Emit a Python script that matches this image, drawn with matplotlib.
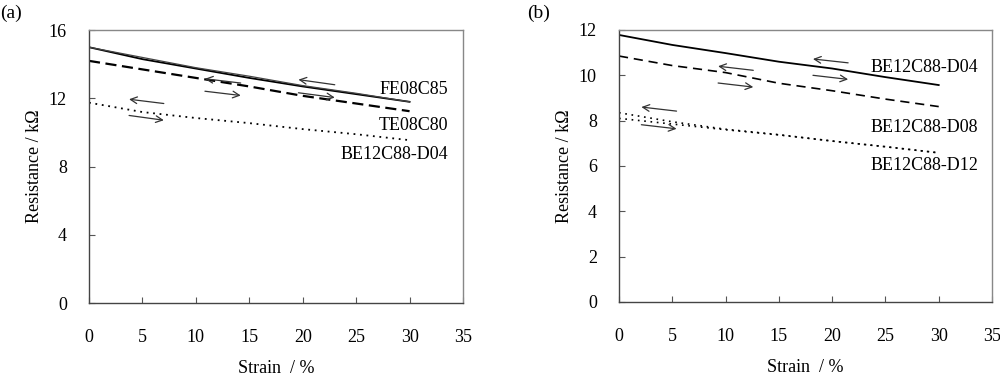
import matplotlib
matplotlib.use("Agg")
import matplotlib.pyplot as plt
import numpy as np

plt.rcParams['font.family'] = ['Liberation Serif', 'DejaVu Serif']

# ---- data ----
strain = [0, 5, 10, 15, 20, 25, 30]

# panel (a)
a_fe08c85_load = [15.0, 14.3, 13.75, 13.2, 12.7, 12.25, 11.8]
a_fe08c85_unload = [15.0, 14.4, 13.8, 13.3, 12.75, 12.3, 11.8]
a_te08c80 = [14.2, 13.7, 13.2, 12.7, 12.15, 11.7, 11.25]
a_be12c88_d04 = [11.75, 11.2, 10.85, 10.55, 10.2, 9.9, 9.55]
a_labels = ["FE08C85", "TE08C80", "BE12C88-D04"]
a_label_y = [12.54, 10.43, 8.73]
a_arrows_x = [(19.6, 23.0), (10.85, 14.2), (3.75, 7.0)]
a_arrows_left_y = [(13.1, 12.8), (13.15, 12.9), (11.95, 11.7)]
a_arrows_right_y = [(12.33, 12.05), (12.42, 12.17), (11.0, 10.72)]

# panel (b)
b_d04 = [11.78, 11.34, 10.98, 10.6, 10.3, 9.92, 9.57]
b_d08 = [10.85, 10.43, 10.12, 9.65, 9.32, 8.95, 8.62]
b_d12_load = [8.1, 7.85, 7.6, 7.37, 7.1, 6.85, 6.58]
b_d12_unload = [8.35, 7.95, 7.62, 7.38, 7.1, 6.85, 6.58]
b_labels = ["BE12C88-D04", "BE12C88-D08", "BE12C88-D12"]
b_label_y = [10.34, 7.69, 6.01]
b_arrows_x = [(18.2, 21.5), (9.3, 12.6), (2.1, 5.4)]
b_arrows_left_y = [(10.72, 10.55), (10.4, 10.22), (8.6, 8.42)]
b_arrows_right_y = [(10.0, 9.82), (9.66, 9.48), (7.82, 7.64)]

xticks = [0, 5, 10, 15, 20, 25, 30, 35]
a_yticks = [0, 4, 8, 12, 16]
b_yticks = [0, 2, 4, 6, 8, 10, 12]

fig = plt.figure(figsize=(10, 3.77), dpi=100)
axa = fig.add_axes([0.089, 0.196, 0.374, 0.724])
axb = fig.add_axes([0.619, 0.199, 0.373, 0.7215])

FS = 13


def style(ax, yticks, ymax):
    ax.set_xlim(0, 35)
    ax.set_ylim(0, ymax)
    ax.set_xticks(xticks)
    ax.set_yticks(yticks)
    ax.tick_params(direction='in', length=4, width=0.8, color='#555555',
                   labelsize=FS, top=False, right=False)
    ax.tick_params(axis='x', pad=19)
    ax.tick_params(axis='y', pad=16)
    for s in ax.spines.values():
        s.set_color('#888888')
        s.set_linewidth(1.0)
    ax.spines['left'].set_color('#444444')
    ax.spines['bottom'].set_color('#444444')
    ax.set_xlabel("Strain  / %", fontsize=FS, labelpad=10)
    ax.set_ylabel("Resistance / kΩ", fontsize=FS, labelpad=4)


def arrows(ax, xs, lys, rys):
    for (x0, x1), (ly0, ly1), (ry0, ry1) in zip(xs, lys, rys):
        ax.annotate("", xy=(x0, ly0), xytext=(x1, ly1),
                    arrowprops=dict(arrowstyle='->', lw=0.9, color='#333333',
                                    shrinkA=0, shrinkB=0, mutation_scale=12))
        ax.annotate("", xy=(x1, ry1), xytext=(x0, ry0),
                    arrowprops=dict(arrowstyle='->', lw=0.9, color='#333333',
                                    shrinkA=0, shrinkB=0, mutation_scale=12))


# panel (a)
axa.plot(strain, a_fe08c85_load, color='black', lw=1.3)
axa.plot(strain, a_fe08c85_unload, color='#444444', lw=0.9)
axa.plot(strain, a_te08c80, color='black', lw=1.6, dashes=(5, 2.5))
axa.plot(strain, a_be12c88_d04, color='black', lw=1.3, dashes=(1, 2.6))
for lab, y in zip(a_labels, a_label_y):
    axa.text(33.6, y, lab, ha='right', va='center', fontsize=FS)
arrows(axa, a_arrows_x, a_arrows_left_y, a_arrows_right_y)
style(axa, a_yticks, 16)

# panel (b)
axb.plot(strain, b_d04, color='black', lw=1.3)
axb.plot(strain, b_d08, color='black', lw=1.2, dashes=(5.5, 3.5))
axb.plot(strain, b_d12_load, color='black', lw=1.2, dashes=(1, 2.8))
axb.plot(strain, b_d12_unload, color='black', lw=1.2, dashes=(1, 2.8))
for lab, y in zip(b_labels, b_label_y):
    axb.text(33.7, y, lab, ha='right', va='center', fontsize=FS)
arrows(axb, b_arrows_x, b_arrows_left_y, b_arrows_right_y)
style(axb, b_yticks, 12)

fig.text(0.0, 0.965, "(a)", fontsize=FS + 1, ha='left', va='center')
fig.text(0.527, 0.965, "(b)", fontsize=FS + 1, ha='left', va='center')

fig.savefig("out.png", dpi=100)
